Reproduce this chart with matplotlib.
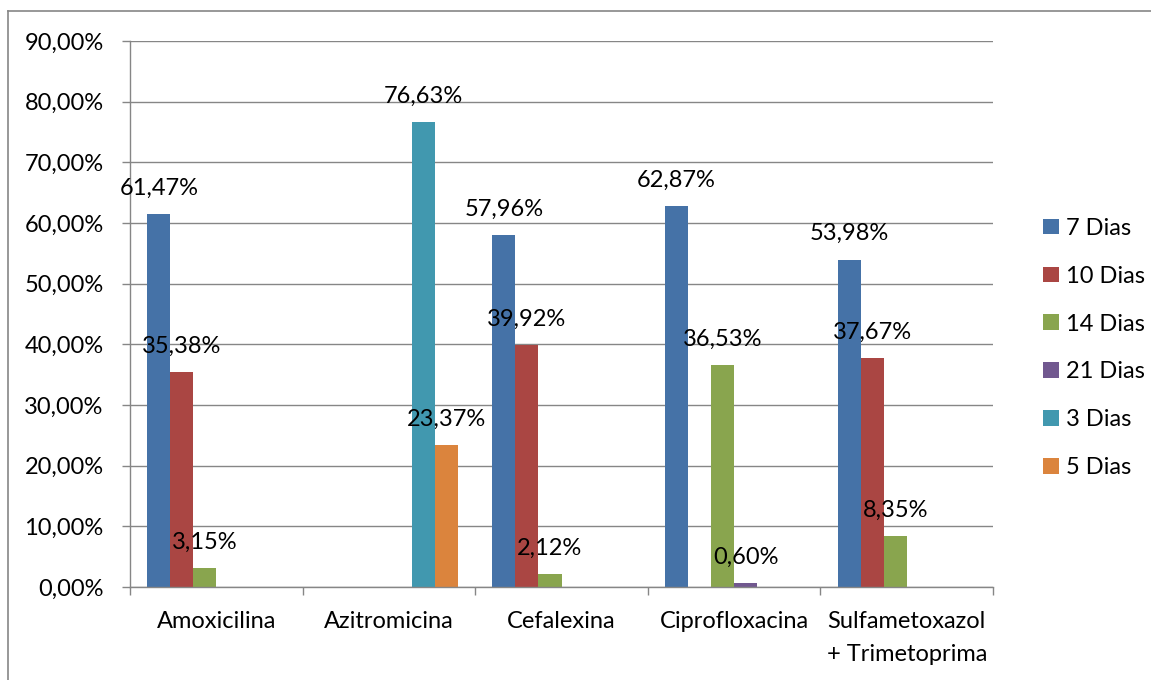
import matplotlib
matplotlib.use("Agg")
import matplotlib.pyplot as plt
import numpy as np
from matplotlib.lines import Line2D
from matplotlib.ticker import FuncFormatter

plt.rcParams['font.family'] = ['Lato', 'DejaVu Sans']

categorias = ["Amoxicilina", "Azitromicina", "Cefalexina", "Ciprofloxacina",
              "Sulfametoxazol\n+ Trimetoprima"]
series = ["7 Dias", "10 Dias", "14 Dias", "21 Dias", "3 Dias", "5 Dias"]

dias_7 = [61.47, 0, 57.96, 62.87, 53.98]
dias_10 = [35.38, 0, 39.92, 0, 37.67]
dias_14 = [3.15, 0, 2.12, 36.53, 8.35]
dias_21 = [0, 0, 0, 0.60, 0]
dias_3 = [0, 76.63, 0, 0, 0]
dias_5 = [0, 23.37, 0, 0, 0]
valores = [dias_7, dias_10, dias_14, dias_21, dias_3, dias_5]

colores = ["#4572A7", "#AA4643", "#89A54E", "#71588F", "#4198AF", "#DB843D"]
gris = "#868686"
fs = 17

fig = plt.figure(figsize=(11.51, 6.80), dpi=100)
ax = fig.add_axes([130/1151, 93/680, 863/1151, 546/680])

x = np.arange(len(categorias))
w = 1 / (len(series) + 1.5)
for i, (nombre, vals) in enumerate(zip(series, valores)):
    pos = x - 0.5 + 0.75 * w + w * (i + 0.5)
    barras = ax.bar(pos, vals, width=w, color=colores[i], label=nombre, zorder=2)
    for b, v in zip(barras, vals):
        if v > 0:
            ax.annotate(f"{v:.2f}%".replace(".", ","),
                        (b.get_x() + b.get_width() / 2, v),
                        xytext=(0, 18.5), textcoords="offset points",
                        ha="center", va="center", fontsize=fs, zorder=3)

ax.set_xlim(-0.5, len(categorias) - 0.5)
ax.set_ylim(0, 90)
ax.set_yticks(np.arange(0, 91, 10))
ax.yaxis.set_major_formatter(FuncFormatter(lambda v, p: f"{v:.2f}%".replace(".", ",")))
ax.grid(axis="y", color=gris, linewidth=1, zorder=0)
ax.set_axisbelow(True)

ax.set_xticks(x)
ax.set_xticklabels(categorias, linespacing=1.75)
ax.set_xticks(np.arange(-0.5, len(categorias)), minor=True)
ax.tick_params(axis="x", which="major", length=0, pad=17, labelsize=fs)
ax.tick_params(axis="x", which="minor", length=5.5, color=gris, width=1)
ax.tick_params(axis="y", length=6, color=gris, width=1, pad=13, labelsize=fs)

for s in ["top", "right"]:
    ax.spines[s].set_visible(False)
for s in ["left", "bottom"]:
    ax.spines[s].set_color(gris)
    ax.spines[s].set_linewidth(1)

leg = ax.legend(loc="center left", bbox_to_anchor=(1034/1151, 332/680),
                bbox_transform=fig.transFigure, frameon=False, fontsize=fs,
                handlelength=0.64, handleheight=0.64, handletextpad=0.3,
                labelspacing=1.14, borderaxespad=0)

# marco del grafico
fig.add_artist(Line2D([8/1151, 8/1151], [0, 1 - 11/680], color=gris, linewidth=1.2))
fig.add_artist(Line2D([8/1151, 1], [1 - 11/680, 1 - 11/680], color=gris, linewidth=1.2))

fig.savefig("out.png", dpi=100)
